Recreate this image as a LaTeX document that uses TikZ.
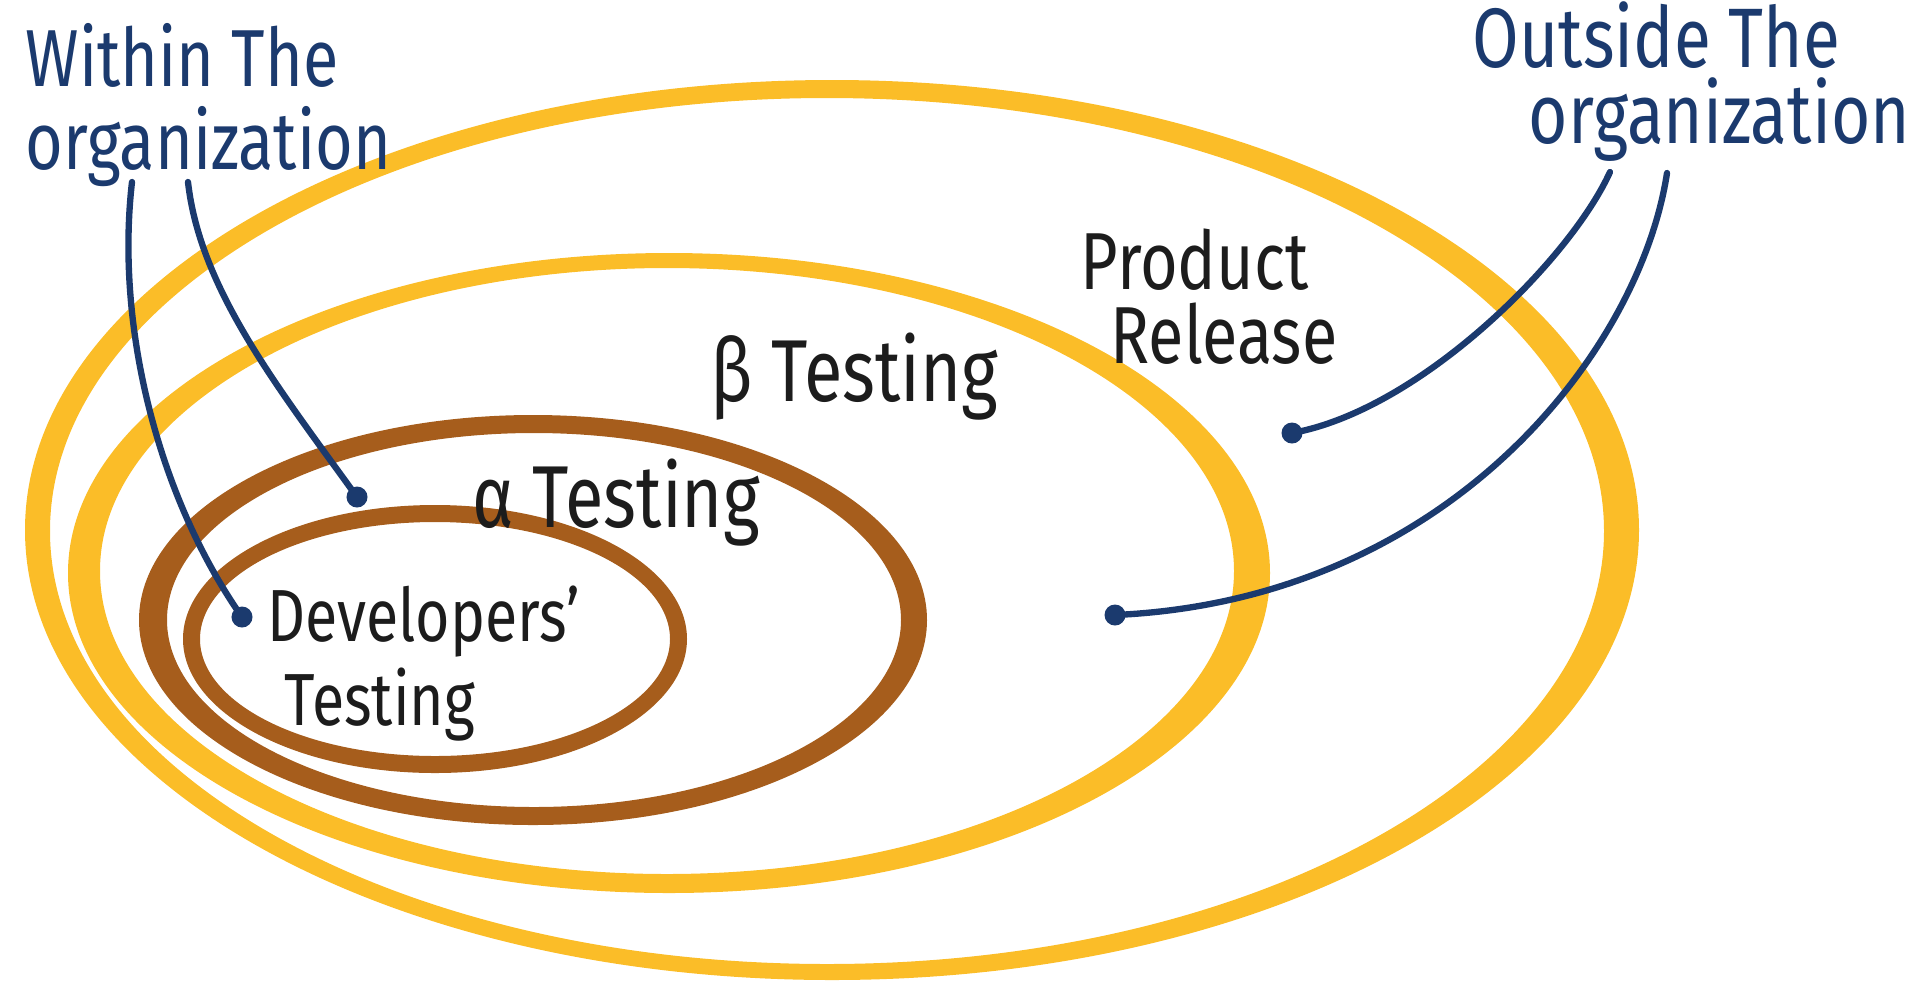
\documentclass[tikz,border=0pt]{standalone}
\usepackage{fontspec}
\setmainfont[FakeStretch=0.8]{Fira Sans}
\usepackage{tikz}
\usetikzlibrary{calc}
\definecolor{ringyellow}{RGB}{251,189,40}
\definecolor{ringbrown}{RGB}{166,93,28}
\definecolor{inknavy}{RGB}{27,58,110}
\definecolor{inkblack}{RGB}{28,28,28}
\tikzset{dot/.style={circle, fill=inknavy, inner sep=0pt, minimum size=.21cm}}
\tikzset{lead/.style={draw=inknavy, line width=1.8pt, line cap=round}}
\tikzset{note/.style={text=inknavy, align=left, inner sep=0pt, anchor=north west}}
\tikzset{stage/.style={text=inkblack, align=left, inner sep=0pt, anchor=north west}}

\begin{document}
\begin{tikzpicture}[x=0.01cm,y=-0.01cm]
    \useasboundingbox (0,0) rectangle (1921,984);
    % rings, outer edge then inner edge
    \foreach \col/\cx/\cy/\ax/\ay/\dx/\dy/\bx/\by in {
      ringyellow/832/530/807/450/827/531/777/433,
      ringyellow/669/573/601/320/667/571/567/303,
      ringbrown/533/620/394/205/534/620/367/187,
      ringbrown/435/639/252/134/435/639/235/117%
    } {
      \fill[\col, even odd rule] (\cx,\cy) ellipse [x radius=\ax, y radius=\ay]
        (\dx,\dy) ellipse [x radius=\bx, y radius=\by];
    }
    % stage labels
    \node[stage, font=\fontsize{23}{21}\selectfont] (release) at (1080,228) {Product\\\hspace*{.3cm}Release};
    \node[stage, font=\fontsize{25}{25}\selectfont] (beta) at (710,332) {β Testing};
    \node[stage, font=\fontsize{25}{25}\selectfont] (alpha) at (472,458) {α Testing};
    \node[stage, font=\fontsize{21}{24}\selectfont] (dev) at (267,585) {Developers'\\\hspace*{.17cm}Testing};
    % group labels
    \node[note, font=\fontsize{23}{23.5}\selectfont] (within) at (25,23) {Within The\\organization};
    \node[note, font=\fontsize{24}{21.5}\selectfont] (outside) at (1472,1) {Outside The\\\hspace*{.56cm}organization};
    \coordinate (wA) at (132,182);
    \coordinate (wB) at (188,182);
    \coordinate (oA) at (1610,172);
    \coordinate (oB) at (1667,173);
    \foreach \x/\y/\lab in {
      242/617/devdot,
      357/497/alphadot,
      1115/615/betadot,
      1292/433/reldot%
    } {
      \node[dot] (\lab) at (\x, \y) {};
    }
    \foreach \u/\ca/\cb/\v in {
      wA/{(115,330)}/{(160,500)}/devdot,
      wB/{(200,290)}/{(280,390)}/alphadot,
      oA/{(1570,260)}/{(1420,410)}/reldot,
      oB/{(1640,350)}/{(1450,600)}/betadot%
    }{
      \draw[lead] (\u) .. controls \ca and \cb .. (\v.center);
    }
\end{tikzpicture}
\end{document}
